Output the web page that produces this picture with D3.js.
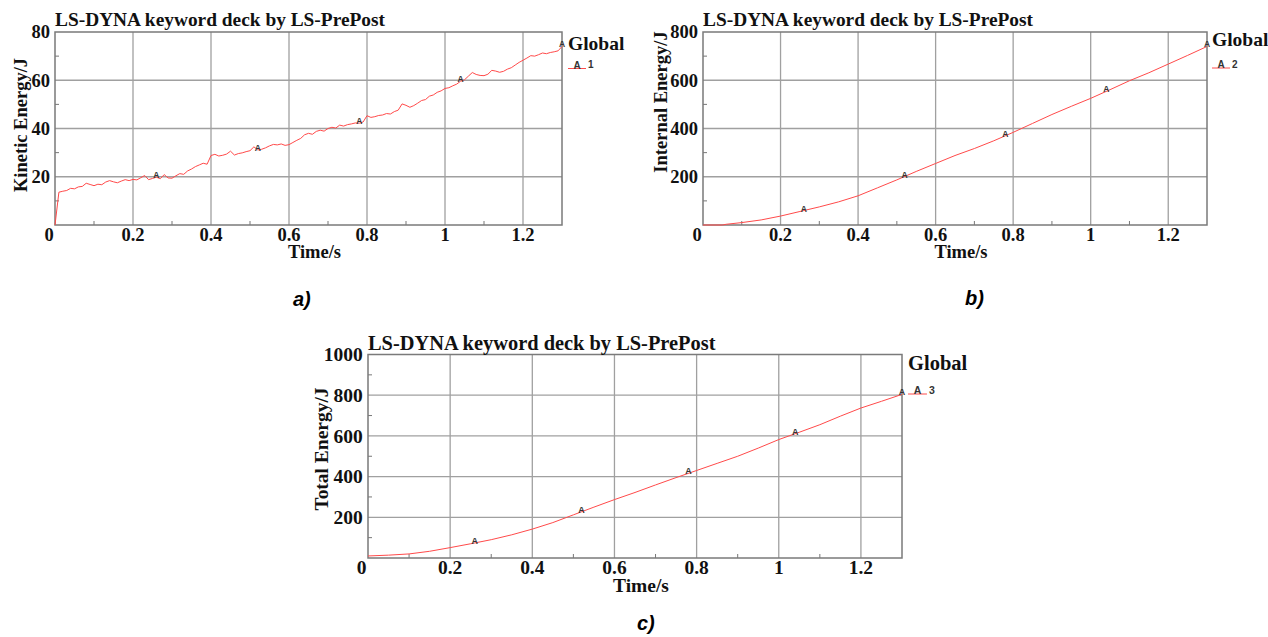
<!DOCTYPE html>
<html lang="en">
<head>
  <meta charset="UTF-8">
  <title>LS-DYNA energy curves</title>
  <script src="https://d3js.org/d3.v7.min.js"></script>
  <style>
    body { margin: 0; padding: 0; background: #ffffff; }
    svg { display: block; }
    .serif { font-family: 'Liberation Serif', 'Times New Roman', serif; font-weight: bold; fill: #111; }
    .marker { font-family: 'Liberation Sans', Arial, sans-serif; font-weight: bold; fill: #333; }
    .caption { font-family: 'Liberation Sans', Arial, sans-serif; font-weight: bold; font-style: italic; fill: #000; }
  </style>
</head>
<body>
  <svg id="chart" width="1268" height="637"></svg>

  <script>
    // kinetic energy, panel a, sampled every 0.01 s (noisy)
    const keStep = 0.01;
    const kineticEnergy = [0, 13.6, 14.0, 14.3, 15.2, 15.0, 15.8, 16.0, 17.3, 16.8,
      16.3, 16.9, 16.7, 17.8, 18.4, 17.9, 17.5, 18.2, 18.8, 18.4,
      18.9, 18.7, 19.6, 20.5, 18.8, 19.3, 19.8, 19.2, 20.9, 19.5,
      19.4, 20.4, 21.3, 21.0, 22.4, 23.2, 24.2, 24.9, 25.6, 25.2,
      28.8, 29.3, 28.6, 28.9, 29.4, 30.6, 29.0, 29.6, 29.9, 30.4,
      30.8, 32.4, 31.1, 31.4, 32.0, 32.8, 33.4, 33.2, 33.6, 33.0,
      33.3, 34.2, 35.1, 35.9, 37.4, 38.0, 37.6, 38.8, 39.3, 38.9,
      40.0, 40.5, 40.2, 41.4, 41.0, 41.6, 41.9, 42.3, 42.2, 42.7,
      45.3, 44.6, 44.9, 45.4, 45.6, 46.2, 46.0, 47.0, 47.6, 50.2,
      49.6, 48.8, 49.5, 50.5, 51.6, 52.0, 53.4, 53.9, 55.0, 55.6,
      56.6, 56.9, 57.7, 58.4, 59.6, 60.2, 61.7, 63.2, 62.4, 62.0,
      61.9, 62.5, 64.1, 63.8, 63.3, 63.7, 64.6, 65.2, 66.3, 67.4,
      68.3, 69.2, 70.2, 70.0, 70.6, 71.3, 71.0, 71.5, 71.8, 72.2,
      74.0];
    const keTime = kineticEnergy.map((v, i) => i * keStep);

    // internal energy, panel b
    const ieTime = [0, 0.05, 0.06, 0.10, 0.15, 0.20, 0.25, 0.30, 0.35, 0.40, 0.45, 0.50, 0.55,
      0.60, 0.65, 0.70, 0.75, 0.80, 0.85, 0.90, 0.95, 1.00, 1.05, 1.10, 1.15, 1.20, 1.25, 1.30];
    const internalEnergy = [0, 0, 3, 10, 21, 37, 56, 75, 96, 121, 154, 187, 222,
      255, 288, 317, 349, 384, 421, 458, 492, 525, 561, 598, 631, 667, 703, 740];

    // total energy, panel c
    const teTime = [0, 0.05, 0.10, 0.15, 0.20, 0.25, 0.30, 0.35, 0.40, 0.45, 0.50, 0.55, 0.60,
      0.65, 0.70, 0.75, 0.80, 0.85, 0.90, 0.95, 1.00, 1.05, 1.10, 1.15, 1.20, 1.25, 1.30];
    const totalEnergy = [10, 14, 20, 33, 51, 70, 90, 114, 142, 174, 212, 250, 287,
      322, 359, 395, 430, 465, 500, 540, 582, 618, 655, 697, 737, 770, 804];

    const markerTimes = [0.26, 0.52, 0.78, 1.04, 1.3];
    const xTicks = [0.2, 0.4, 0.6, 0.8, 1, 1.2];
    const xMinor = [0.1, 0.3, 0.5, 0.7, 0.9, 1.1];
    const yTicksA = [20, 40, 60, 80];
    const yTicksB = [200, 400, 600, 800];
    const yTicksC = [200, 400, 600, 800, 1000];

    const panels = [
      { time: keTime, values: kineticEnergy, yMax: 80, yTicks: yTicksA, yMinorStep: 10,
        yLabel: "Kinetic Energy/J", legendId: "1", caption: "a)",
        left: 55, top: 32, width: 507, height: 193, s: 1,
        yLabelX: 27, yLabelY: 125, titleY: 25.5,
        globalX: 568, globalY: 50, legY: 68.5, capX: 293, capY: 306 },
      { time: ieTime, values: internalEnergy, yMax: 800, yTicks: yTicksB, yMinorStep: 100,
        yLabel: "Internal Energy/J", legendId: "2", caption: "b)",
        left: 703, top: 32, width: 504, height: 193, s: 1,
        yLabelX: 667, yLabelY: 102, titleY: 25.5,
        globalX: 1212, globalY: 46, legY: 68, capX: 965, capY: 305 },
      { time: teTime, values: totalEnergy, yMax: 1000, yTicks: yTicksC, yMinorStep: 100,
        yLabel: "Total Energy/J", legendId: "3", caption: "c)",
        left: 368, top: 354.5, width: 534, height: 203.5, s: 1.053,
        yLabelX: 328, yLabelY: 449, titleY: 350,
        globalX: 908, globalY: 370, legY: 394, capX: 637, capY: 630 }
    ];

    const svg = d3.select("#chart");

    panels.forEach(p => {
      const g = svg.append("g");
      const x = d3.scaleLinear().domain([0, 1.3]).range([p.left, p.left + p.width]);
      const y = d3.scaleLinear().domain([0, p.yMax]).range([p.top + p.height, p.top]);
      const bottom = p.top + p.height;
      const fs = 18.5 * p.s;

      // grid
      g.selectAll("line.vgrid").data(xTicks).enter().append("line")
        .attr("x1", d => x(d)).attr("x2", d => x(d))
        .attr("y1", p.top).attr("y2", bottom)
        .style("stroke", "#a0a0a0").style("stroke-width", 1.3);
      g.selectAll("line.hgrid").data(p.yTicks.filter(d => d < p.yMax)).enter().append("line")
        .attr("x1", p.left).attr("x2", p.left + p.width)
        .attr("y1", d => y(d)).attr("y2", d => y(d))
        .style("stroke", "#a0a0a0").style("stroke-width", 1.3);

      // minor ticks
      g.selectAll("line.xminor").data(xMinor).enter().append("line")
        .attr("x1", d => x(d)).attr("x2", d => x(d))
        .attr("y1", bottom).attr("y2", bottom - 4)
        .style("stroke", "#777").style("stroke-width", 1);
      const yMinor = d3.range(p.yMinorStep, p.yMax, p.yMinorStep * 2);
      g.selectAll("line.yminor").data(yMinor).enter().append("line")
        .attr("x1", p.left).attr("x2", p.left + 4)
        .attr("y1", d => y(d)).attr("y2", d => y(d))
        .style("stroke", "#777").style("stroke-width", 1);

      // frame
      g.append("rect")
        .attr("x", p.left).attr("y", p.top)
        .attr("width", p.width).attr("height", p.height)
        .style("fill", "none").style("stroke", "#7a7a7a").style("stroke-width", 1.5);

      // curve
      const pts = p.time.map((t, i) => [t, p.values[i]]);
      const line = d3.line().x(d => x(d[0])).y(d => y(d[1]));
      g.append("path").datum(pts)
        .attr("d", line)
        .style("fill", "none").style("stroke", "#ff4a4a").style("stroke-width", 1);

      // "A" markers along the curve
      const interp = t => {
        const i = d3.bisectLeft(p.time, t - 1e-9);
        if (i <= 0) return p.values[0];
        if (i >= p.time.length) return p.values[p.values.length - 1];
        const t0 = p.time[i - 1], t1 = p.time[i];
        return p.values[i - 1] + (p.values[i] - p.values[i - 1]) * (t - t0) / (t1 - t0);
      };
      g.selectAll("text.marker").data(markerTimes).enter().append("text")
        .attr("class", "marker")
        .attr("x", d => x(d)).attr("y", d => y(interp(d)) + 1)
        .attr("text-anchor", "middle")
        .style("font-size", (8.5 * p.s) + "px")
        .text("A");

      // tick labels
      g.selectAll("text.ylab").data(p.yTicks).enter().append("text")
        .attr("class", "serif")
        .attr("x", p.left - 5 * p.s).attr("y", d => y(d))
        .attr("dy", "0.35em")
        .attr("text-anchor", "end")
        .style("font-size", fs + "px")
        .text(d => d);
      g.selectAll("text.xlab").data(xTicks).enter().append("text")
        .attr("class", "serif")
        .attr("x", d => x(d)).attr("y", bottom + 15.5 * p.s)
        .attr("text-anchor", "middle")
        .style("font-size", fs + "px")
        .text(d => d);
      g.append("text").attr("class", "serif")
        .attr("x", p.left - 6 * p.s).attr("y", bottom + 15.5 * p.s)
        .attr("text-anchor", "middle")
        .style("font-size", fs + "px")
        .text("0");

      // axis titles
      g.append("text").attr("class", "serif")
        .attr("x", p.left + p.width / 2 + 6).attr("y", bottom + 32.5 * p.s)
        .attr("text-anchor", "middle")
        .style("font-size", fs + "px")
        .text("Time/s");
      g.append("text").attr("class", "serif")
        .attr("transform", `translate(${p.yLabelX},${p.yLabelY}) rotate(-90)`)
        .attr("text-anchor", "middle")
        .style("font-size", (18.5 * p.s) + "px")
        .text(p.yLabel);

      // title
      g.append("text").attr("class", "serif")
        .attr("x", p.left).attr("y", p.titleY)
        .attr("textLength", 330 * p.s)
        .attr("lengthAdjust", "spacingAndGlyphs")
        .style("font-size", (19.5 * p.s) + "px")
        .text("LS-DYNA keyword deck by LS-PrePost");

      // legend
      g.append("text").attr("class", "serif")
        .attr("x", p.globalX).attr("y", p.globalY)
        .style("font-size", (19.5 * p.s) + "px")
        .text("Global");
      g.append("line")
        .attr("x1", p.globalX).attr("x2", p.globalX + 18 * p.s)
        .attr("y1", p.legY).attr("y2", p.legY)
        .style("stroke", "#ff4a4a").style("stroke-width", 1);
      g.append("text").attr("class", "marker")
        .attr("x", p.globalX + 9 * p.s).attr("y", p.legY)
        .attr("text-anchor", "middle")
        .style("font-size", (10 * p.s) + "px")
        .text("A");
      g.append("text").attr("class", "marker")
        .attr("x", p.globalX + 20 * p.s).attr("y", p.legY - 0.5)
        .style("font-size", (10 * p.s) + "px")
        .text(p.legendId);

      // panel caption
      g.append("text").attr("class", "caption")
        .attr("x", p.capX).attr("y", p.capY)
        .style("font-size", "20px")
        .text(p.caption);
    });
  </script>
</body>
</html>
